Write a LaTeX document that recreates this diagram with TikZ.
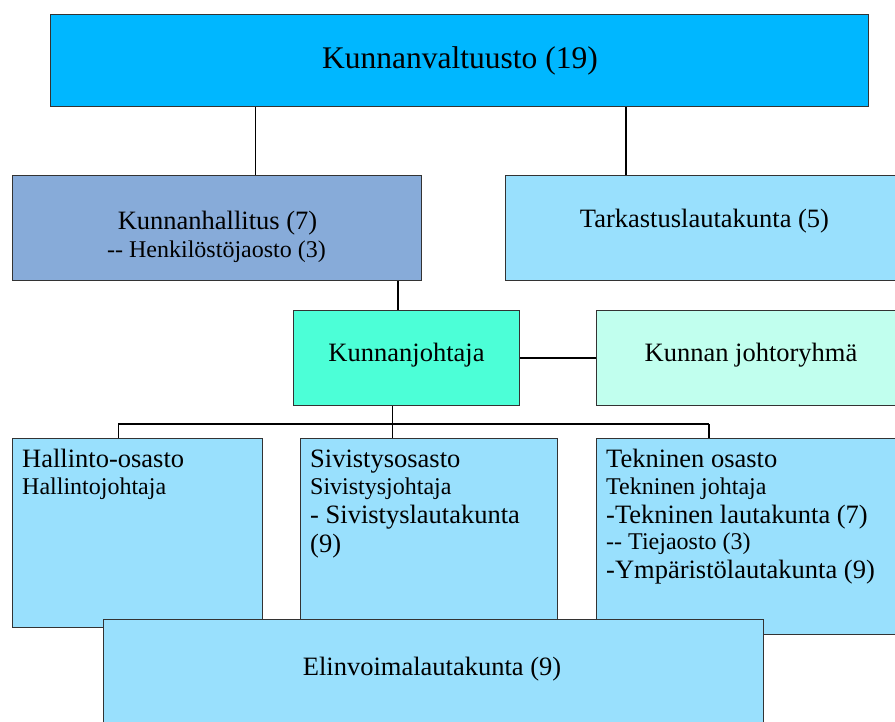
\documentclass[tikz,border=0pt]{standalone}
\usepackage{fontspec}
\setmainfont{Liberation Serif}
\definecolor{cTop}{HTML}{00B7FF}
\definecolor{cHall}{HTML}{87ABD9}
\definecolor{cLight}{HTML}{99E0FD}
\definecolor{cJoht}{HTML}{4CFFD7}
\definecolor{cRyhma}{HTML}{C1FFEE}
\newcommand{\fsz}[1]{\fontsize{#1}{28}\selectfont}
\begin{document}
\begin{tikzpicture}[x=1pt,y=-1pt,
  box/.style={draw=black!80, line width=1pt, inner sep=0pt, anchor=north west},
  txt/.style={inner sep=0pt, font=\fsz{26.5}},
  sml/.style={inner sep=0pt, font=\fsz{24}},
  conn/.style={draw=black, line width=1pt},
  connm/.style={draw=black, line width=1.5pt},
  connt/.style={draw=black, line width=2pt}]
\useasboundingbox (0,0) rectangle (895,722);
\clip (0,0) rectangle (895,722);
\fill[white] (0,0) rectangle (895,722);

% column coordinates
\coordinate (xa) at (255,0);
\coordinate (xb) at (626,0);
\coordinate (xc) at (398,0);
\coordinate (xd) at (392,0);
\coordinate (xe) at (118,0);
\coordinate (xf) at (709,0);
\coordinate (bus) at (0,424);

% boxes
\node[box, fill=cTop, minimum width=818pt, minimum height=92pt] (kv) at (50,14) {};
\node[box, fill=cHall, minimum width=409pt, minimum height=105pt] (kh) at (12,175) {};
\node[box, fill=cLight, minimum width=400pt, minimum height=105pt] (tl) at (505,175) {};
\node[box, fill=cJoht, minimum width=226pt, minimum height=95pt] (kj) at (293,310) {};
\node[box, fill=cRyhma, minimum width=310pt, minimum height=95pt] (jr) at (596,310) {};
\node[box, fill=cLight, minimum width=250pt, minimum height=189pt] (ho) at (12,438) {};
\node[box, fill=cLight, minimum width=257pt, minimum height=200pt] (so) at (300,438) {};
\node[box, fill=cLight, minimum width=310pt, minimum height=196pt] (to) at (596,438) {};

% connectors
\draw[conn] (kv.south -| xa) -- (kh.north -| xa);
\draw[connm] (kv.south -| xb) -- (tl.north -| xb);
\draw[connm] (kh.south -| xc) -- (kj.north -| xc);
\draw[connt] (kj.east) -- (jr.west);
\draw[conn] (kj.south -| xd) -- (bus -| xd);
\draw[connt] (bus -| xe) -- (bus -| xf);
\draw[conn] (bus -| xe) -- (ho.north -| xe);
\draw[conn] (bus -| xd) -- (so.north -| xd);
\draw[connt] (bus -| xf) -- (to.north -| xf);

% texts
\node[inner sep=0pt, font=\fsz{31.5}, anchor=base] (kvt) at (460,68.5) {Kunnanvaltuusto (19)};
\node[txt, anchor=base] (kht) at (217.5,230) {Kunnanhallitus (7)};
\node[sml, anchor=base] (khs) at (216.5,258) {-{}- Henkilöstöjaosto (3)};
\node[txt, anchor=base] (tlt) at (704.5,228) {Tarkastuslautakunta (5)};
\node[txt, anchor=base] (kjt) at (406.5,361.5) {Kunnanjohtaja};
\node[txt, anchor=base] (jrt) at (751,361.5) {Kunnan johtoryhmä};

\node[txt, anchor=base west] (ho1) at (22,467) {Hallinto-osasto};
\node[sml, anchor=base west] (ho2) at (22,494) {Hallintojohtaja};

\node[txt, anchor=base west] (so1) at (310,467) {Sivistysosasto};
\node[sml, anchor=base west] (so2) at (310,494) {Sivistysjohtaja};
\node[txt, anchor=base west] (so3) at (310,523) {- Sivistyslautakunta};
\node[txt, anchor=base west] (so4) at (310,552) {(9)};

\node[txt, anchor=base west] (to1) at (606,467) {Tekninen osasto};
\node[sml, anchor=base west] (to2) at (606,494) {Tekninen johtaja};
\node[txt, anchor=base west] (to3) at (606,523) {-Tekninen lautakunta (7)};
\node[sml, anchor=base west] (to4) at (606,549) {-{}- Tiejaosto (3)};
\node[txt, anchor=base west] (to5) at (606,578) {-Ympäristölautakunta (9)};

% overlapping bottom box
\node[box, fill=cLight, minimum width=660pt, minimum height=120pt] (el) at (103,619) {};
\node[txt, anchor=base] (elt) at (432,675) {Elinvoimalautakunta (9)};
\end{tikzpicture}
\end{document}
